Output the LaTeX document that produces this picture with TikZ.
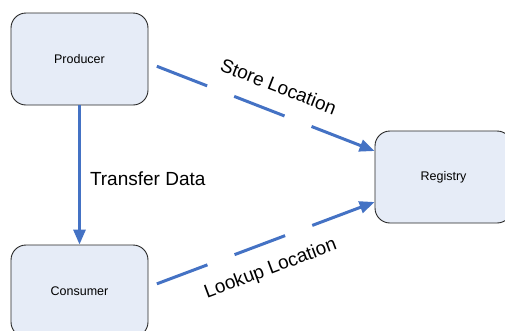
\documentclass[tikz,border=0pt]{standalone}
\usepackage{fontspec}
\setmainfont{Liberation Sans}
\usetikzlibrary{arrows.meta}

\definecolor{linkblue}{RGB}{68,114,196}
\definecolor{boxfill}{RGB}{230,236,247}

\begin{document}
\begin{tikzpicture}[x=1pt,y=-1pt,
    actor/.style={draw=black!85, line width=0.9pt, fill=boxfill, rounded corners=15pt,
        minimum width=137pt, minimum height=92pt, font=\fontsize{12.5}{15}\selectfont},
    link/.style={draw=linkblue, line width=3pt, -{Triangle[length=15pt,width=12pt]}},
    dashlink/.style={link, dash pattern=on 54pt off 29pt},
    linklabel/.style={font=\fontsize{19}{22}\selectfont, inner sep=0pt}]

    % picture frame
    \useasboundingbox (0,0) rectangle (505,330);

    % the three parties
    \node[actor] (producer) at (79.5,59) {Producer};
    \node[actor] (consumer) at (79.5,291) {Consumer};
    \node[actor] (registry) at (443.5,177) {Registry};

    % data goes straight down
    \draw[link] (producer.south) -- (consumer.north)
        node[linklabel, pos=0.53, anchor=west, xshift=9pt] (transfer) {Transfer Data};

    % both talk to the registry
    \draw[dashlink, shorten <=9pt] ([yshift=-4pt]producer.east) -- ([yshift=26pt]registry.west)
        node[linklabel, pos=0.535, sloped, above=17pt] (store) {Store Location};
    \draw[dashlink, shorten <=9pt] ([yshift=4pt]consumer.east) -- ([yshift=-25pt]registry.west)
        node[linklabel, pos=0.5, sloped, below=16pt] (lookup) {Lookup Location};

\end{tikzpicture}
\end{document}
